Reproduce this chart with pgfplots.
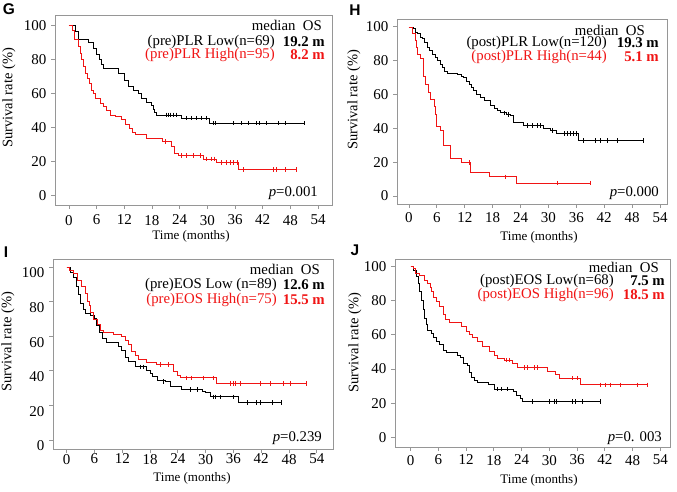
\documentclass[border=0pt]{standalone}
\usepackage{pgfplots}
\pgfplotsset{compat=1.18}
\usepackage{fontspec}
\setmainfont{Liberation Serif}
\newfontfamily\panelfont{Liberation Sans}
\definecolor{kmred}{RGB}{240,20,20}
\definecolor{frm}{RGB}{150,150,150}
\newcommand{\tk}{\fontsize{15}{17}\selectfont}
\newcommand{\yl}{\fontsize{14.5}{16}\selectfont}
\newcommand{\lgf}{\fontsize{14.8}{17}\selectfont}
\newcommand{\xl}{\fontsize{13}{15}\selectfont}
\newcommand{\pl}{\panelfont\bfseries\fontsize{15.5}{17}\selectfont}
\pgfplotsset{km/.style={
  scale only axis, anchor=south west,
  axis line style={frm, line width=0.9pt},
  every tick/.style={frm, line width=0.9pt},
  tick align=outside, major tick length=4pt,
  xtick={0,6,...,54}, ytick={0,20,...,100},
  xtick pos=left, ytick pos=left,
  tick label style={font=\tk},
  yticklabel style={xshift=-1pt},
  /pgf/number format/assume math mode=true,
  every axis plot/.append style={line width=0.8pt},
}}
\pgfplotsset{cens/.style={only marks, mark=|, mark size=2.2pt, mark options={line width=0.6pt}}}
\begin{document}
\begin{tikzpicture}[x=1pt,y=1pt]
\path[use as bounding box] (0,0) rectangle (677,492);
% ---------------- G
\begin{axis}[km, at={(55pt,287pt)}, width=277pt, height=189.3pt,
  xmin=-3.03, xmax=57.03, ymin=-5.5, ymax=105.9,
  xticklabel style={yshift=-2.5pt}]
\addplot[const plot, black] coordinates {(0,100) (1.3,96.6) (2.0,91.7) (4.2,90) (5.3,86.8) (6.0,83) (6.6,80) (7.1,77) (7.4,75) (10.7,72) (12.1,68) (12.9,64.2) (13.9,62) (15.0,60) (15.7,57.4) (16.8,55) (17.9,53.4) (18.3,51) (18.6,49) (19.0,47.5) (24.4,45.6) (30.5,42.6) (51.1,42.6)};
\addplot[cens, black] coordinates {(21.0,47.5) (21.5,47.5) (22.0,47.5) (22.6,47.5) (23.3,47.5) (25.5,45.6) (26.6,45.6) (27.7,45.6) (28.7,45.6) (29.8,45.6) (31.3,42.6) (31.8,42.6) (35.6,42.6) (37.4,42.6) (38.8,42.6) (40.6,42.6) (41.2,42.6) (42.8,42.6) (45.3,42.6) (46.8,42.6) (51.1,42.6)};
\addplot[const plot, kmred] coordinates {(0,100) (0.8,97) (1.2,92) (2.0,88) (2.4,84) (2.8,80) (3.1,76) (3.5,72) (3.9,69) (4.4,66) (4.9,62) (5.3,60) (5.7,57.4) (6.9,54) (7.4,52.5) (8.2,50) (8.9,47.5) (10.0,46.6) (11.3,44.6) (12.3,42) (13.0,39.7) (13.8,37.5) (14.5,35.8) (16.8,33.4) (20.2,31.8) (22.2,29) (22.8,25) (23.8,23.6) (29.1,21.6) (32.0,19.6) (36.7,15.5) (49.3,15.5)};
\addplot[cens, kmred] coordinates {(20.9,31.8) (24.4,23.6) (25.5,23.6) (26.9,23.6) (28.4,23.6) (29.8,21.6) (30.9,21.6) (31.6,21.6) (33.1,19.6) (34.2,19.6) (34.9,19.6) (35.6,19.6) (36.5,19.6) (37.8,15.5) (44.3,15.5) (45.0,15.5) (46.8,15.5) (49.3,15.5)};
\end{axis}
% ---------------- H
\begin{axis}[km, at={(397pt,288pt)}, width=270pt, height=185pt,
  xmin=-2.58, xmax=55.5, ymin=-4.7, ymax=104.7,
  xticklabel style={yshift=-1pt}]
\addplot[const plot, black] coordinates {(0,100) (0.9,99) (1.4,97) (1.8,96) (2.4,94) (2.9,93) (3.4,91) (3.9,88) (4.4,86) (5.0,84) (5.6,82) (6.1,80) (6.7,78) (7.2,76) (7.7,74) (8.2,72.7) (10.4,72) (11.3,71) (11.8,70) (12.3,68) (12.9,66) (13.4,64) (13.9,62.7) (14.6,60) (15.4,58.2) (16.3,56.5) (17.5,53.6) (18.3,52) (19.0,50.5) (19.7,49.2) (21.0,48.2) (21.8,47.8) (22.5,43.8) (24.7,41.6) (29.0,40.2) (30.4,38.8) (31.8,36.9) (36.5,32.9) (50.3,32.9)};
\addplot[cens, black] coordinates {(20.5,49.2) (21.4,48.2) (25.4,41.6) (26.5,41.6) (27.5,41.6) (28.3,41.6) (30.8,38.8) (33.3,36.9) (34.0,36.9) (34.7,36.9) (35.4,36.9) (36.0,36.9) (37.6,32.9) (40.1,32.9) (41.1,32.9) (42.6,32.9) (44.7,32.9) (50.3,32.9)};
\addplot[const plot, kmred] coordinates {(0,100) (0.8,96) (1.3,92) (1.6,88) (1.8,84) (2.5,81.5) (3.0,76) (3.2,70.5) (3.6,66) (4.1,61.5) (4.6,57.2) (5.4,53) (5.6,48) (5.8,44) (6.0,41.2) (6.8,38.6) (7.5,29.9) (8.9,22.3) (11.2,19.9) (13.2,13.9) (17.2,11.4) (23.2,7.6) (39.0,7.6)};
\addplot[cens, kmred] coordinates {(12.9,19.9) (20.7,11.4) (31.8,7.6) (39.0,7.6)};
\end{axis}
% ---------------- I
\begin{axis}[km, at={(53pt,43pt)}, width=280pt, height=190pt,
  xmin=-2.96, xmax=57.5, ymin=-5.2, ymax=104.6,
  yticklabel style={yshift=-6pt}, xticklabel style={yshift=2.5pt}]
\addplot[const plot, black] coordinates {(0,100) (0.8,97) (1.4,94) (2.0,89) (2.5,84) (3.0,79) (3.5,75.4) (4.1,73) (5.2,71.9) (6.0,70) (6.5,66) (7.0,62) (7.7,58.7) (8.5,56.3) (11.2,54) (11.9,51.9) (12.6,48) (13.3,45.2) (14.9,42.3) (17.1,40.4) (18.0,38.5) (18.5,36.9) (19.6,34.6) (21.4,33.7) (22.3,30.8) (24.8,29.2) (29.2,28) (29.9,27.3) (31.1,25) (37.1,21.7) (46.4,21.7)};
\addplot[cens, black] coordinates {(15.8,42.3) (16.6,42.3) (20.9,33.7) (26.6,29.2) (28.1,29.2) (31.7,25) (32.0,25) (33.1,25) (36.0,25) (38.9,21.7) (41.0,21.7) (41.8,21.7) (44.3,21.7) (46.4,21.7)};
\addplot[const plot, kmred] coordinates {(0,100) (0.6,98) (1.4,96) (2.3,92.3) (3.2,88.5) (4.0,84.6) (4.5,80) (4.8,77.9) (5.2,74) (5.8,69.8) (6.6,67) (7.2,63.5) (7.9,62.1) (10.1,61.2) (11.9,60) (12.6,57.7) (13.3,55.4) (14.0,51.3) (14.8,49) (15.5,46.7) (17.3,44.8) (19.4,43.7) (23.0,39.4) (23.8,37.5) (24.5,36) (32.4,32.7) (51.8,32.7)};
\addplot[cens, kmred] coordinates {(20.3,43.7) (22.0,43.7) (25.9,36) (27.0,36) (29.5,36) (31.7,36) (35.3,32.7) (36.0,32.7) (36.4,32.7) (37.4,32.7) (41.8,32.7) (43.9,32.7) (46.8,32.7) (48.2,32.7) (51.8,32.7)};
\end{axis}
% ---------------- J
\begin{axis}[km, at={(395pt,45pt)}, width=275pt, height=188pt,
  xmin=-3.4, xmax=56.1, ymin=-5.7, ymax=104.5,
  xticklabel style={yshift=-0.5pt}]
\addplot[const plot, black] coordinates {(0,100) (0.5,98) (1.2,94.1) (1.6,90) (1.9,85.4) (2.3,80.5) (2.7,75) (3.0,69.7) (3.4,66) (3.7,62.9) (4.5,60.9) (5.0,58.5) (5.5,56) (6.2,54.7) (7.0,51.2) (7.7,49.8) (10.2,48) (10.8,46.7) (11.3,43.4) (12.3,42) (12.7,38) (13.1,35) (13.8,33.2) (14.5,32.2) (16.7,30.7) (18.1,28.3) (22.3,26.8) (22.8,24.4) (23.8,23) (24.2,20.9) (41.0,20.9)};
\addplot[cens, black] coordinates {(18.8,28.3) (19.5,28.3) (21.0,28.3) (26.3,20.9) (29.9,20.9) (31.0,20.9) (31.4,20.9) (35.0,20.9) (35.7,20.9) (37.1,20.9) (41.0,20.9)};
\addplot[const plot, kmred] coordinates {(0,100) (0.5,99) (1.0,96) (1.9,94.7) (2.9,92.2) (3.7,90.2) (4.2,88) (4.5,85.7) (5.0,82) (5.5,79.5) (6.2,76.6) (7.0,72) (7.5,69.3) (8.4,67.4) (10.9,65.2) (12.0,62.3) (12.7,60.3) (13.4,58.4) (14.5,56) (15.6,53.1) (17.0,50.2) (18.1,48) (18.8,46.3) (20.2,45.3) (22.0,43.4) (23.0,41) (29.6,38.9) (31.2,36.9) (32.1,34.6) (36.8,30.7) (51.1,30.7)};
\addplot[cens, kmred] coordinates {(20.6,45.3) (21.3,45.3) (24.6,41) (25.3,41) (26.7,41) (27.4,41) (35.0,34.6) (36.0,34.6) (41.1,30.7) (42.1,30.7) (43.2,30.7) (45.4,30.7) (49.0,30.7) (51.1,30.7)};
\end{axis}
% ---------------- texts
\node[font=\pl] at (9,482.5) {G};
\node[font=\pl] at (355,482) {H};
\node[font=\pl] at (6,240) {I};
\node[font=\pl] at (355,242) {J};
\node[font=\yl, rotate=90] at (9,394) {Survival rate (\%)};
\node[font=\yl, rotate=90] at (354,392) {Survival rate (\%)};
\node[font=\yl, rotate=90] at (8,150) {Survival rate (\%)};
\node[font=\yl, rotate=90] at (355,149) {Survival rate (\%)};
\node[font=\xl] at (191,255.3) {Time (months)};
\node[font=\xl] at (539,255) {Time (months)};
\node[font=\xl] at (192,14) {Time (months)};
\node[font=\xl] at (539,12) {Time (months)};
% G legend
\node[font=\lgf, anchor=east, inner sep=0] at (322,467) {median\ \ OS};
\node[font=\lgf, anchor=east, inner sep=0] at (275,450.3) {(pre)PLR Low(n=69)};
\node[font=\lgf\bfseries, anchor=east, inner sep=0] at (325,450.3) {19.2 m};
\node[font=\lgf, anchor=east, inner sep=0, text=kmred] at (275,437) {(pre)PLR High(n=95)};
\node[font=\lgf\bfseries, anchor=east, inner sep=0, text=kmred] at (325,437) {8.2 m};
\node[font=\lgf, anchor=east, inner sep=0] at (318,299.3) {\textit{p}=0.001};
% H legend
\node[font=\lgf, anchor=east, inner sep=0] at (645,462) {median\ \ OS};
\node[font=\lgf, anchor=east, inner sep=0] at (607,449) {(post)PLR Low(n=120)};
\node[font=\lgf\bfseries, anchor=east, inner sep=0] at (659,449) {19.3 m};
\node[font=\lgf, anchor=east, inner sep=0, text=kmred] at (607,435) {(post)PLR High(n=44)};
\node[font=\lgf\bfseries, anchor=east, inner sep=0, text=kmred] at (659,435) {5.1 m};
\node[font=\lgf, anchor=east, inner sep=0] at (659,299) {\textit{p}=0.000};
% I legend
\node[font=\lgf, anchor=east, inner sep=0] at (320,223) {median\ \ OS};
\node[font=\lgf, anchor=east, inner sep=0] at (277,207) {(pre)EOS Low (n=89)};
\node[font=\lgf\bfseries, anchor=east, inner sep=0] at (325,207) {12.6 m};
\node[font=\lgf, anchor=east, inner sep=0, text=kmred] at (277,192) {(pre)EOS High(n=75)};
\node[font=\lgf\bfseries, anchor=east, inner sep=0, text=kmred] at (325,192) {15.5 m};
\node[font=\lgf, anchor=east, inner sep=0] at (322,54) {\textit{p}=0.239};
% J legend
\node[font=\lgf, anchor=east, inner sep=0] at (659,225) {median\ \ OS};
\node[font=\lgf, anchor=east, inner sep=0] at (614,211) {(post)EOS Low(n=68)};
\node[font=\lgf\bfseries, anchor=east, inner sep=0] at (665,211) {7.5 m};
\node[font=\lgf, anchor=east, inner sep=0, text=kmred] at (614,197) {(post)EOS High(n=96)};
\node[font=\lgf\bfseries, anchor=east, inner sep=0, text=kmred] at (665,197) {18.5 m};
\node[font=\lgf, anchor=east, inner sep=0] at (662,54) {\textit{p}=0. 003};
\end{tikzpicture}
\end{document}
